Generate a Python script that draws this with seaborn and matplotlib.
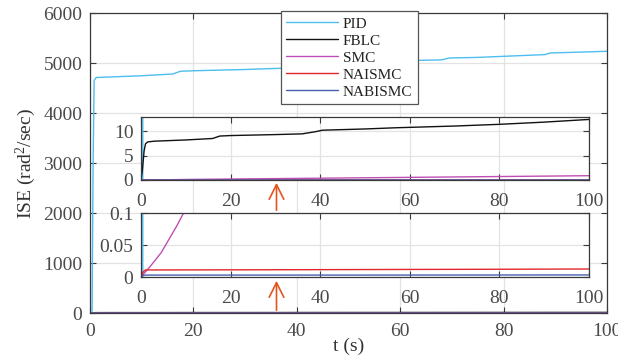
import numpy as np
import pandas as pd
import matplotlib
matplotlib.use("Agg")
import matplotlib.pyplot as plt
import seaborn as sns

# ---- data ----
t_pid = [0, 0.4, 0.6, 0.8, 1.2, 5, 10, 16, 17.5, 20, 30, 37, 45, 52, 60, 68, 69.5, 75, 88, 89, 100]
pid = [0, 0, 3000, 4650, 4710, 4725, 4745, 4780, 4835, 4845, 4870, 4895, 4950, 5010, 5046, 5062, 5100, 5112, 5168, 5200, 5234]

t_fblc = [0, 0.3, 0.7, 1.0, 1.5, 3, 10, 16, 17.6, 20, 30, 36, 39, 40.5, 50, 57, 70, 80, 90, 100]
fblc = [0, 2.0, 6.0, 7.4, 7.8, 7.95, 8.2, 8.5, 9.0, 9.1, 9.3, 9.45, 9.9, 10.2, 10.45, 10.7, 11.05, 11.4, 11.85, 12.4]

t_smc = [0, 2, 4.5, 6.5, 8, 9.5, 12, 20, 40, 60, 80, 100]
smc = [0, 0.016, 0.038, 0.062, 0.08, 0.1, 0.13, 0.2, 0.37, 0.54, 0.71, 0.88]

t_naismc = [0, 0.5, 1, 20, 40, 60, 80, 100]
naismc = [0, 0.008, 0.011, 0.0112, 0.0115, 0.0118, 0.0121, 0.0125]

t_nabismc = [0, 0.5, 1, 50, 100]
nabismc = [0, 0.0025, 0.003, 0.003, 0.0032]

names = ["PID", "FBLC", "SMC", "NAISMC", "NABISMC"]
colors = {"PID": "#4DBEEE", "FBLC": "#111111", "SMC": "#C04EB4",
          "NAISMC": "#E3262B", "NABISMC": "#4660B0"}

xticks = [0, 20, 40, 60, 80, 100]
yticks_main = [0, 1000, 2000, 3000, 4000, 5000, 6000]
yticks_in1 = [0, 5, 10]
yticks_in2 = [0, 0.05, 0.1]
yticklabels_in2 = ["0", "0.05", "0.1"]

frames = []
for n, tt, vv in [("PID", t_pid, pid), ("FBLC", t_fblc, fblc), ("SMC", t_smc, smc),
                  ("NAISMC", t_naismc, naismc), ("NABISMC", t_nabismc, nabismc)]:
    frames.append(pd.DataFrame({"t": tt, "v": vv, "method": n}))
df = pd.concat(frames, ignore_index=True)

sns.set_theme(style="ticks")
plt.rcParams["font.family"] = ["Liberation Serif", "DejaVu Serif"]
plt.rcParams["mathtext.fontset"] = "custom"
plt.rcParams["mathtext.rm"] = "Liberation Serif"
plt.rcParams["mathtext.it"] = "Liberation Serif:italic"

W, H = 618, 363
fig = plt.figure(figsize=(W / 100, H / 100), dpi=100)

def px_axes(l, t, r, b):
    return [l / W, 1 - b / H, (r - l) / W, (b - t) / H]

spine_c = "#3a3a3a"
lab_c = "#4a4a4a"
grid_c = "#e3e3e3"

def style(ax, xpad, fs=14):
    for s in ax.spines.values():
        s.set_color(spine_c)
        s.set_linewidth(0.9)
    ax.tick_params(direction="in", top=True, right=True, length=4, width=0.8,
                   color=spine_c, labelcolor=lab_c, labelsize=fs, pad=5.5)
    ax.tick_params(axis="x", pad=xpad)
    ax.grid(True, color=grid_c, linewidth=0.9)
    ax.set_axisbelow(True)

ax = fig.add_axes(px_axes(90, 13, 607, 313))
sns.lineplot(data=df, x="t", y="v", hue="method", hue_order=names, palette=colors,
             estimator=None, sort=False, linewidth=1.0, ax=ax)
ax.set_xlim(0, 100)
ax.set_ylim(0, 6000)
ax.set_xticks(xticks)
ax.set_yticks(yticks_main)
style(ax, 7.5)
ax.set_xlabel("t (s)", fontsize=14, color="#333333", labelpad=-2)
ax.set_ylabel("ISE (rad$^2$/sec)", fontsize=14, color="#333333", labelpad=4)

handles, labels = ax.get_legend_handles_labels()
leg = ax.legend(handles, labels, loc="upper left",
                bbox_to_anchor=(281 / W, 1 - 11.5 / H), bbox_transform=fig.transFigure,
                fontsize=11, frameon=True, fancybox=False, framealpha=1,
                edgecolor="#555555", handlelength=3.4, handletextpad=0.3,
                labelspacing=0.22, borderpad=0.35, borderaxespad=0)
leg.get_frame().set_linewidth(0.9)
leg.set_zorder(20)
for tx in leg.get_texts():
    tx.set_color("#222222")

# inset 1
ax1 = fig.add_axes(px_axes(141, 117, 589, 180))
sns.lineplot(data=df, x="t", y="v", hue="method", hue_order=names, palette=colors,
             estimator=None, sort=False, linewidth=1.0, ax=ax1, legend=False)
ax1.set_xlim(0, 100)
ax1.set_ylim(0, 12.9)
ax1.set_xticks(xticks)
ax1.set_yticks(yticks_in1)
style(ax1, 9.5)
ax1.set_xlabel("")
ax1.set_ylabel("")

# inset 2
ax2 = fig.add_axes(px_axes(141, 213, 589, 277))
sns.lineplot(data=df, x="t", y="v", hue="method", hue_order=names, palette=colors,
             estimator=None, sort=False, linewidth=1.0, ax=ax2, legend=False)
ax2.set_xlim(0, 100)
ax2.set_ylim(0, 0.1)
ax2.set_xticks(xticks)
ax2.set_yticks(yticks_in2)
ax2.set_yticklabels(yticklabels_in2)
style(ax2, 9.5)
ax2.set_xlabel("")
ax2.set_ylabel("")

# arrows
arrow_c = "#E4531C"
xa = 276.5 / W
for y0, y1 in [(213, 180), (313, 278)]:
    fig.patches.append(matplotlib.patches.FancyArrowPatch(
        (xa, 1 - y0 / H), (xa, 1 - y1 / H), transform=fig.transFigure,
        arrowstyle="->,head_length=7,head_width=3.5", color=arrow_c,
        linewidth=1.2, mutation_scale=1.5, zorder=30))

fig.savefig("out.png", dpi=100)
